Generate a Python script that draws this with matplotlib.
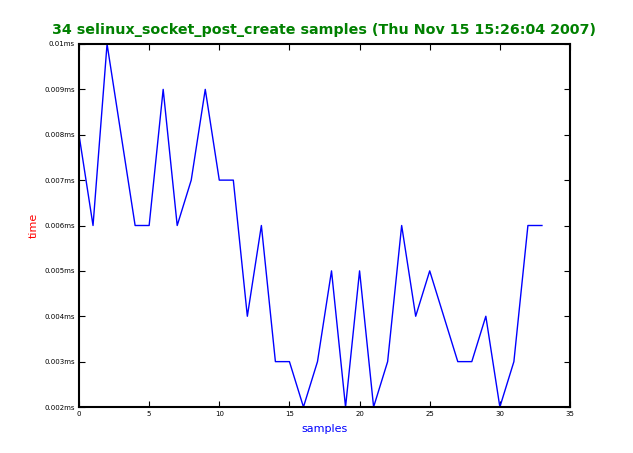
import matplotlib
matplotlib.use("Agg")
import matplotlib.pyplot as plt
from matplotlib.ticker import FuncFormatter

# sample values in ms
samples = list(range(34))
times = [0.008, 0.006, 0.010, 0.008, 0.006, 0.006, 0.009, 0.006, 0.007, 0.009,
         0.007, 0.007, 0.004, 0.006, 0.003, 0.003, 0.002, 0.003, 0.005, 0.002,
         0.005, 0.002, 0.003, 0.006, 0.004, 0.005, 0.004, 0.003, 0.003, 0.004,
         0.002, 0.003, 0.006, 0.006]
yticks = [0.002, 0.003, 0.004, 0.005, 0.006, 0.007, 0.008, 0.009, 0.010]
xticks = [0, 5, 10, 15, 20, 25, 30, 35]

fig = plt.figure(figsize=(6.33, 4.53), dpi=100)
ax = fig.add_axes([79 / 633, 1 - 407 / 453, (570 - 79) / 633, (407 - 44) / 453])

ax.plot(samples, times, color="#0000ff", linewidth=1.0)

ax.set_xlim(0, 35)
ax.set_ylim(0.002, 0.010)
ax.set_xticks(xticks)
ax.set_yticks(yticks)
ax.yaxis.set_major_formatter(FuncFormatter(lambda v, p: "%gms" % round(v, 4)))

ax.tick_params(direction="in", length=4, width=0.8, labelsize=5,
               top=True, right=True, pad=3)
for s in ax.spines.values():
    s.set_linewidth(1.5)

ax.set_xlabel("samples", color="blue", fontsize=8, labelpad=5)
ax.set_ylabel("time", color="red", fontsize=8, labelpad=4)
ax.set_title("34 selinux_socket_post_create samples (Thu Nov 15 15:26:04 2007)",
             color="green", fontsize=10.3, fontweight="bold", pad=7)

fig.savefig("out.png", dpi=100)
